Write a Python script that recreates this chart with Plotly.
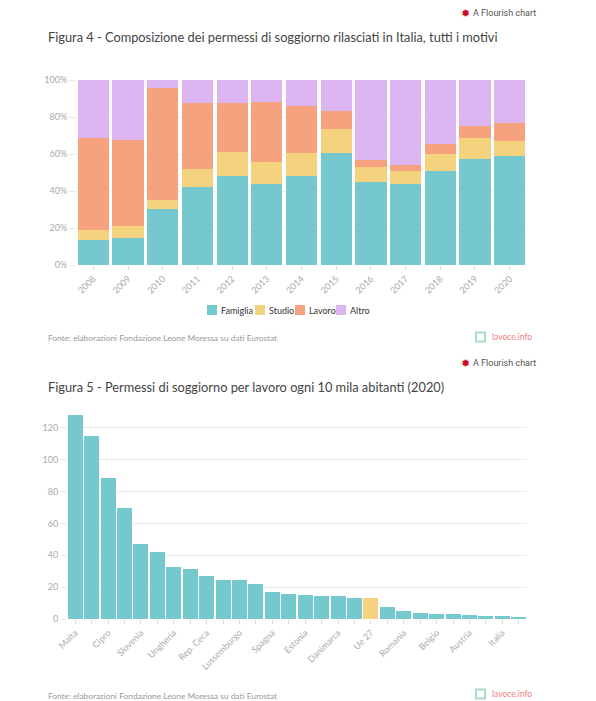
import plotly.graph_objects as go

W, H = 596, 701
PAGE_OFFSET = 8  # default body margin of the html page

# ---- Figure 4 data ----
years = ["2008", "2009", "2010", "2011", "2012", "2013", "2014",
         "2015", "2016", "2017", "2018", "2019", "2020"]
famiglia = [13.5, 14.6, 30.3, 42.3, 48.1, 44.0, 48.1, 60.7, 45.0, 43.8, 50.8, 57.3, 58.7]
studio = [5.6, 6.5, 4.8, 9.4, 12.8, 11.5, 12.3, 13.0, 8.0, 7.0, 9.2, 11.3, 8.3]
lavoro = [49.4, 46.5, 60.6, 36.0, 26.8, 32.8, 25.7, 9.7, 3.9, 3.2, 5.4, 6.4, 9.6]
altro = [31.5, 32.4, 4.3, 12.3, 12.3, 11.7, 13.9, 16.6, 43.1, 46.0, 34.6, 25.0, 23.4]
series_names = ["Famiglia", "Studio", "Lavoro", "Altro"]
pct_ticks = [0, 20, 40, 60, 80, 100]

# ---- Figure 5 data ----
paesi = ["Malta", "Polonia", "Cipro", "Croazia", "Slovenia", "Lituania", "Ungheria",
         "Slovacchia", "Rep. Ceca", "Paesi Bassi", "Lussemburgo", "Lettonia", "Spagna",
         "Svezia", "Estonia", "Finlandia", "Danimarca", "Irlanda", "Ue 27", "Bulgaria",
         "Romania", "Germania", "Belgio", "Portogallo", "Austria", "Francia", "Italia",
         "Grecia"]
permessi = [128, 114.8, 88.8, 69.8, 47.1, 42.2, 32.4, 31.4, 27.0, 24.5, 24.5, 21.8, 16.9,
            15.9, 15.0, 14.3, 14.3, 13.3, 12.9, 7.3, 5.3, 3.6, 3.3, 3.1, 2.8, 1.6, 1.6, 1.2]
num_ticks = [0, 20, 40, 60, 80, 100, 120]

C_FAM = "#74C8CE"
C_STU = "#F5D27E"
C_LAV = "#F6A27F"
C_ALT = "#DDB6F1"
COLORS = [C_FAM, C_STU, C_LAV, C_ALT]
FONT = "Lato"

def px_x(x):
    return (x - PAGE_OFFSET) / W

def px_y(y):
    return 1 - (y - PAGE_OFFSET) / H

fig = go.Figure()

for name, vals, col in zip(series_names, [famiglia, studio, lavoro, altro], COLORS):
    fig.add_trace(go.Bar(x=years, y=vals, name=name, marker=dict(color=col, line=dict(width=0)),
                         width=0.9, showlegend=False, xaxis="x", yaxis="y"))

bar_cols = [C_STU if p == "Ue 27" else C_FAM for p in paesi]
fig.add_trace(go.Bar(x=paesi, y=permessi, marker=dict(color=bar_cols, line=dict(width=0)),
                     width=0.92, showlegend=False, xaxis="x2", yaxis="y2"))

axis_common = dict(tickfont=dict(family=FONT, size=9, color="#aaaaaa"), showline=False,
                   zeroline=False, automargin=False)

fig.update_layout(
    template="none",
    width=W, height=H, barmode="stack",
    margin=dict(l=0, r=0, t=0, b=0, autoexpand=False),
    paper_bgcolor="white", plot_bgcolor="white",
    font=dict(family=FONT, color="#333333"),
    showlegend=False,
    xaxis=dict(domain=[px_x(76), px_x(527)], anchor="y", tickangle=-45, type="category",
               ticks="outside", ticklen=4, tickcolor="#dddddd", showgrid=False, **axis_common),
    yaxis=dict(domain=[px_y(265), px_y(80)], anchor="x", range=[0, 100], tickvals=pct_ticks,
               ticktext=[f"{v}%" for v in pct_ticks], showgrid=True, gridcolor="#f0f0f0",
               gridwidth=1, ticks="outside", ticklen=6, tickcolor="#e6e6e6", **axis_common),
    xaxis2=dict(domain=[px_x(67), px_x(527)], anchor="y2", tickangle=-45, type="category",
                tickvals=paesi, ticktext=[p if i % 2 == 0 else "" for i, p in enumerate(paesi)],
                ticks="outside", ticklen=4, tickcolor="#dddddd", showgrid=False, **axis_common),
    yaxis2=dict(domain=[px_y(619), px_y(412)], anchor="x2", range=[0, 130], tickvals=num_ticks,
                showgrid=True, gridcolor="#ececec", gridwidth=1, ticks="outside", ticklen=6,
                tickcolor="#e6e6e6", **axis_common),
    bargap=0.1,
)

annots = []
shapes = []

# manual legend for figure 4
leg_x = [207, 255, 295, 336]
for name, col, lx in zip(series_names, COLORS, leg_x):
    shapes.append(dict(type="rect", xref="paper", yref="paper",
                       x0=px_x(lx), x1=px_x(lx + 10), y0=px_y(315), y1=px_y(305),
                       line=dict(width=0), fillcolor=col))
    annots.append(dict(text=name, x=px_x(lx + 12), y=px_y(310), xref="paper", yref="paper",
                       xanchor="left", yanchor="middle", showarrow=False,
                       font=dict(family=FONT, size=9, color="#333333")))

for ty, title in [(37, "Figura 4 - Composizione dei permessi di soggiorno rilasciati in Italia, tutti i motivi"),
                  (387, "Figura 5 - Permessi di soggiorno per lavoro ogni 10 mila abitanti (2020)")]:
    annots.append(dict(text=title, x=px_x(46), y=px_y(ty), xref="paper", yref="paper",
                       xanchor="left", yanchor="middle", showarrow=False,
                       font=dict(family=FONT, size=12.8, color="#444444")))
for sy in [338, 696]:
    annots.append(dict(text="Fonte: elaborazioni Fondazione Leone Moressa su dati Eurostat",
                       x=px_x(46), y=px_y(sy), xref="paper", yref="paper", xanchor="left",
                       yanchor="middle", showarrow=False,
                       font=dict(family=FONT, size=8.3, color="#999999")))
for fy in [13, 363]:
    annots.append(dict(text="<b>✹</b>", x=px_x(466), y=px_y(fy), xref="paper", yref="paper",
                       xanchor="center", yanchor="middle", showarrow=False,
                       font=dict(family="DejaVu Sans", size=11, color="#d0021b")))
    annots.append(dict(text="A Flourish chart", x=px_x(471), y=px_y(fy), xref="paper",
                       yref="paper", xanchor="left", yanchor="middle", showarrow=False,
                       font=dict(family="Roboto", size=9, color="#555555")))
for ly in [337, 694]:
    annots.append(dict(text="lavoce.info", x=px_x(490), y=px_y(ly), xref="paper", yref="paper",
                       xanchor="left", yanchor="middle", showarrow=False,
                       font=dict(family=FONT, size=8.5, color="#f08080")))
    shapes.append(dict(type="rect", xref="paper", yref="paper",
                       x0=px_x(476), x1=px_x(485), y0=px_y(ly + 4.5), y1=px_y(ly - 4.5),
                       line=dict(color="#a8dcc4", width=2), fillcolor="white"))

fig.update_layout(annotations=annots, shapes=shapes)

fig.write_html("out.html")
